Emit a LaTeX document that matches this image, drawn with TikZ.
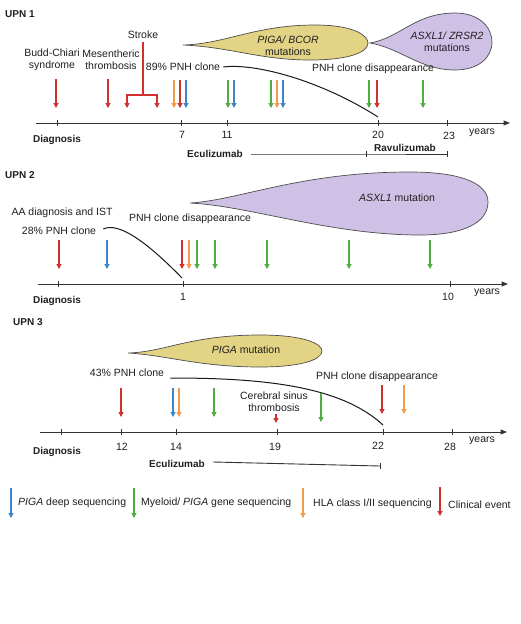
\documentclass[tikz,border=0pt]{standalone}
\usepackage{fontspec}
\setmainfont{Liberation Sans}
\usetikzlibrary{arrows.meta}

\definecolor{evred}{HTML}{D0302E}
\definecolor{pigablue}{HTML}{3B86CC}
\definecolor{myegreen}{HTML}{4FAE3F}
\definecolor{hlaorange}{HTML}{F39A4C}
\definecolor{cloneyellow}{HTML}{E3D385}
\definecolor{clonepurple}{HTML}{CFC1E6}

\begin{document}
\begin{tikzpicture}[x=1pt, y=-1pt, font=\fontsize{10.5}{12}\selectfont,
    txt/.style={inner sep=0pt, align=center, text=black!88},
    bold/.style={txt, font=\fontsize{10}{11.5}\selectfont\bfseries},
    axis/.style={line width=1pt, black!80, -{Triangle[length=6.5pt,width=5pt]}},
    tick/.style={line width=1pt, black!80},
    treat/.style={line width=0.9pt, black!80},
    clone/.style={line width=1pt, black!90},
    blob/.style={draw=black!70, line width=0.7pt},
    ev/.style={line width=1.1pt, -{Triangle[length=5pt,width=5pt]}},
    piga/.style={ev, pigablue},
    myeloid/.style={ev, myegreen},
    hla/.style={ev, hlaorange},
    event/.style={ev, evred}]
    \useasboundingbox (0,0) rectangle (520,624);

    %%%%%%%% UPN 1
    \node[bold, anchor=west] (upn1) at (5,14) {UPN 1};
    %clones
    \draw[blob, fill=cloneyellow] (183,45) .. controls (225,44) and (255,25) .. (315,25) .. controls (355,25) and (368,36) .. (368,43) .. controls (368,52) and (350,60) .. (310,60) .. controls (260,60) and (230,47) .. (183,45) -- cycle;
    \node[txt] (bcor) at (288,46) {\textit{PIGA/ BCOR}\\mutations};
    \draw[blob, fill=clonepurple] (370,43) .. controls (400,38) and (415,13) .. (455,13) .. controls (480,13) and (492,28) .. (492,42) .. controls (492,58) and (478,70) .. (455,70) .. controls (420,70) and (400,48) .. (370,43) -- cycle;
    \node[txt] (zrsr) at (447,41.5) {\textit{ASXL1/ ZRSR2}\\mutations};
    %events
    \node[txt] (budd) at (52,60) {Budd-Chiari\\syndrome};
    \node[txt] (mes) at (111,60) {Mesentheric\\thrombosis};
    \node[txt] (stroke) at (143,35) {Stroke};
    \node[txt] (pnh1) at (183,67) {89\% PNH clone};
    \node[txt] (gone1) at (373,69) {PNH clone disappearance};
    %PNH clone
    \coordinate (end1) at (378,117);
    \draw[clone] ([xshift=3pt]pnh1.east) .. controls (255,63) and (320,80) .. (end1);
    %Stroke
    \coordinate (fork) at (143,95);
    \draw[event, -] ([yshift=-3pt]stroke.south) -- (fork);
    \draw[event] (fork) -| (127,108);
    \draw[event] (fork) -| (157,108);
    %arrows
    \draw[event] (56,79) -- (56,108);
    \draw[event] (108,79) -- (108,108);
    \draw[hla] (174,80) -- (174,108);
    \draw[event] (180,80) -- (180,108);
    \draw[piga] (186,80) -- (186,108);
    \draw[myeloid] (228,80) -- (228,108);
    \draw[piga] (234,80) -- (234,108);
    \draw[myeloid] (271,80) -- (271,108);
    \draw[hla] (277,80) -- (277,108);
    \draw[piga] (283,80) -- (283,108);
    \draw[myeloid] (369,80) -- (369,108);
    \draw[event] (377,80) -- (377,108);
    \draw[myeloid] (423,80) -- (423,108);
    %axis
    \coordinate (a1s) at (36,123);
    \coordinate (a1e) at (510,123);
    \draw[axis] (a1s) -- (a1e);
    \draw[tick] (57,120) -- (57,126);
    \draw[tick] (181,120) -- (181,126);
    \draw[tick] (227,120) -- (227,126);
    \draw[tick] (378,120) -- (378,126);
    \draw[tick] (447,120) -- (447,126);
    \node[bold] (diag1) at (57,140) {Diagnosis};
    \node[txt] (y7) at (182,135) {7};
    \node[txt] (y11) at (227,135) {11};
    \node[txt] (y20) at (378,135) {20};
    \node[txt] (y23) at (449,136) {23};
    \node[txt] (years1) at (482,133) {years};
    %treatment
    \node[bold] (ecu1) at (215,154) {Eculizumab};
    \node[bold] (ravu1) at (405,148) {Ravulizumab};
    \coordinate (switch1) at (366,154);
    \coordinate (stop1) at (447,154);
    \draw[treat] ([xshift=8pt]ecu1.east) -- (switch1) -- (stop1);
    \draw[treat] ([yshift=3pt]switch1) -- ([yshift=-3pt]switch1);
    \draw[treat] ([yshift=3pt]stop1) -- ([yshift=-3pt]stop1);

    %%%%%%%% UPN 2
    \node[bold, anchor=west] (upn2) at (5,175) {UPN 2};
    %clone
    \draw[blob, fill=clonepurple] (190,203) .. controls (240,200) and (300,172) .. (410,172) .. controls (465,172) and (488,185) .. (488,202) .. controls (488,222) and (465,235) .. (420,235) .. controls (330,235) and (250,206) .. (190,203) -- cycle;
    \node[txt] (asxl2) at (397,198) {\textit{ASXL1} mutation};
    %events
    \node[txt] (aa) at (62,213) {AA diagnosis and IST};
    \node[txt] (pnh2) at (59,231) {28\% PNH clone};
    \node[txt] (gone2) at (190,219) {PNH clone disappearance};
    \coordinate (end2) at (182,278);
    \draw[clone] ([xshift=7pt,yshift=2pt]pnh2.east) .. controls (118,222) and (145,240) .. (end2);
    %arrows
    \draw[event] (59,240) -- (59,269);
    \draw[piga] (107,240) -- (107,269);
    \draw[event] (182,240) -- (182,269);
    \draw[hla] (189,240) -- (189,269);
    \draw[myeloid] (197,240) -- (197,269);
    \draw[myeloid] (215,240) -- (215,269);
    \draw[myeloid] (267,240) -- (267,269);
    \draw[myeloid] (349,240) -- (349,269);
    \draw[myeloid] (430,240) -- (430,269);
    %axis
    \coordinate (a2s) at (38,284);
    \coordinate (a2e) at (508,284);
    \draw[axis] (a2s) -- (a2e);
    \draw[tick] (58,281) -- (58,287);
    \draw[tick] (183,281) -- (183,287);
    \draw[tick] (450,281) -- (450,287);
    \node[bold] (diag2) at (57,301) {Diagnosis};
    \node[txt] (y1) at (183,297) {1};
    \node[txt] (y10) at (448,297) {10};
    \node[txt] (years2) at (487,293) {years};

    %%%%%%%% UPN 3
    \node[bold, anchor=west] (upn3) at (13,322) {UPN 3};
    %clone
    \draw[blob, fill=cloneyellow] (128,353) .. controls (165,352) and (190,335) .. (260,335) .. controls (305,335) and (322,344) .. (322,351) .. controls (322,360) and (300,367) .. (260,367) .. controls (200,367) and (165,355) .. (128,353) -- cycle;
    \node[txt] (piga3) at (246,350) {\textit{PIGA} mutation};
    %events
    \node[txt] (pnh3) at (127,373) {43\% PNH clone};
    \node[txt] (gone3) at (377,377) {PNH clone disappearance};
    \node[txt] (csvt) at (274,402) {Cerebral sinus\\thrombosis};
    \coordinate (end3) at (383,425);
    \draw[clone] ([shift={(6,5)}]pnh3.east) .. controls (260,378) and (340,385) .. (end3);
    %arrows
    \draw[event] (121,388) -- (121,417);
    \draw[piga] (173,388) -- (173,417);
    \draw[hla] (179,388) -- (179,417);
    \draw[myeloid] (214,388) -- (214,417);
    \draw[event] (276,414) -- (276,423);
    \draw[myeloid] (321,393) -- (321,422);
    \draw[event] (382,385) -- (382,414);
    \draw[hla] (404,385) -- (404,414);
    %axis
    \coordinate (a3s) at (40,432);
    \coordinate (a3e) at (507,432);
    \draw[axis] (a3s) -- (a3e);
    \draw[tick] (61,429) -- (61,435);
    \draw[tick] (121,429) -- (121,435);
    \draw[tick] (176,429) -- (176,435);
    \draw[tick] (277,429) -- (277,435);
    \draw[tick] (383,429) -- (383,435);
    \draw[tick] (452,429) -- (452,435);
    \node[bold] (diag3) at (57,452) {Diagnosis};
    \node[txt] (y12) at (122,447) {12};
    \node[txt] (y14) at (176,447) {14};
    \node[txt] (y19) at (275,447) {19};
    \node[txt] (y22) at (378,446) {22};
    \node[txt] (y28) at (450,447) {28};
    \node[txt] (years3) at (482,441) {years};
    %treatment
    \node[bold] (ecu3) at (177,464) {Eculizumab};
    \coordinate (stop3) at (380,466);
    \draw[treat] ([xshift=8pt,yshift=2pt]ecu3.east) -- (stop3);
    \draw[treat] ([yshift=3pt]stop3) -- ([yshift=-3pt]stop3);

    %%%%%%%% Legend
    \draw[piga] (11,488) -- (11,518);
    \node[txt, anchor=west] (lpiga) at (18,503) {\textit{PIGA} deep sequencing};
    \draw[myeloid] (134,488) -- (134,518);
    \node[txt, anchor=west] (lmye) at (141,503) {Myeloid/ \textit{PIGA} gene sequencing};
    \draw[hla] (303,488) -- (303,518);
    \node[txt, anchor=west] (lhla) at (313,504) {HLA class I/II sequencing};
    \draw[event] (440,487) -- (440,516);
    \node[txt, anchor=west] (levent) at (448,505) {Clinical event};
\end{tikzpicture}
\end{document}
